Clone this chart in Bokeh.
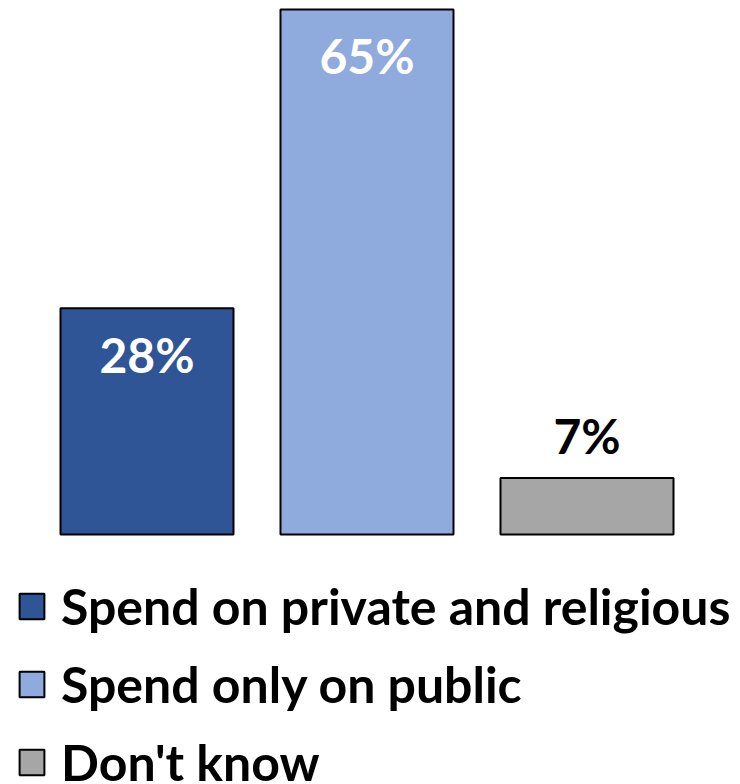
from bokeh.plotting import figure
from bokeh.models import ColumnDataSource, Range1d, Legend, LegendItem
from bokeh.core.properties import value
from bokeh.embed import file_html
from bokeh.resources import INLINE

categories = ["Spend on private and religious", "Spend only on public", "Don't know"]
values = [28, 65, 7]
labels = ["28%", "65%", "7%"]
colors = ["#2F5597", "#8FAADC", "#A6A6A6"]

FONT = "Lato"
W, H = 740, 784
px_per_unit = 525 / 65
baseline_from_bottom = 250
bar_pitch = 220

src = ColumnDataSource(dict(
    x=list(range(len(categories))), top=values, cat=categories, color=colors,
))

p = figure(width=W, height=H, output_backend="svg", toolbar_location=None,
           min_border=0, outline_line_color=None)
xstart = -146.5 / bar_pitch
p.x_range = Range1d(xstart, xstart + W / bar_pitch)
ystart = -baseline_from_bottom / px_per_unit
p.y_range = Range1d(ystart, ystart + H / px_per_unit)
p.axis.visible = False
p.grid.visible = False
p.background_fill_color = "white"
p.border_fill_color = "white"

r = p.vbar(x="x", top="top", bottom=0, width=173 / bar_pitch, fill_color="color",
           line_color="black", line_width=2, source=src)

inside = ColumnDataSource(dict(x=[0, 1], y=values[:2], t=labels[:2]))
outside = ColumnDataSource(dict(x=[2], y=values[2:], t=labels[2:]))
p.text(x="x", y="y", text="t", source=inside, text_color="white",
       text_font=value(FONT), text_font_style="bold", text_font_size="48px",
       text_align="center", text_baseline="middle", y_offset=46)
p.text(x="x", y="y", text="t", source=outside, text_color="black",
       text_font=value(FONT), text_font_style="bold", text_font_size="48px",
       text_align="center", text_baseline="middle", y_offset=-42)

items = [LegendItem(label=c, renderers=[r], index=i) for i, c in enumerate(categories)]
legend = Legend(items=items, location=(16, -8), orientation="vertical",
                label_text_font=FONT, label_text_font_style="bold",
                label_text_font_size="50px", label_text_color="black",
                glyph_width=31, glyph_height=32, label_standoff=14,
                spacing=18, padding=0, margin=0,
                background_fill_alpha=0, border_line_color=None)
p.add_layout(legend)

open("out.html", "w").write(file_html(p, INLINE))
